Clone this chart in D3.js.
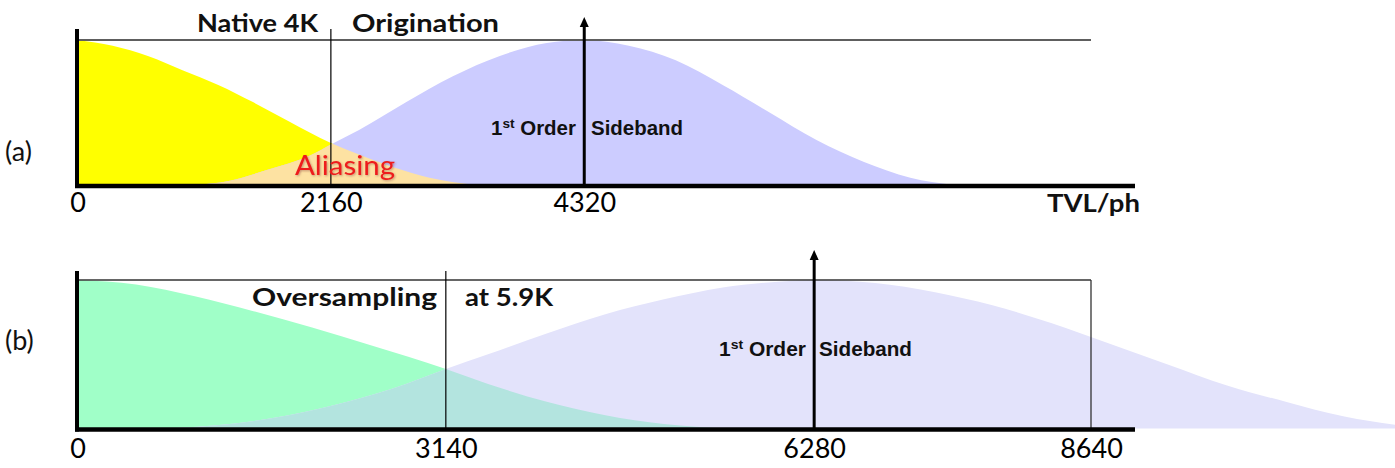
<!DOCTYPE html>
<html>
<head>
<meta charset="utf-8">
<script src="https://cdn.jsdelivr.net/npm/d3@7"></script>
<style>
  body { margin: 0; background: #fff; }
  svg { display: block; }
</style>
</head>
<body>
<svg id="chart" width="1395" height="468"></svg>
<script>
// Baseband response and first-order sideband, native 4K vs 5.9K oversampling (TVL/ph)
const ticksA = [0, 2160, 4320];
const ticksB = [0, 3140, 6280, 8640];
const nyquistA = 2160, samplingA = 4320;
const nyquistB = 3140, samplingB = 6280, limitB = 8640;

// relative response as [TVL/ph, level]
const basebandA = [[0,1],[300,0.96],[600,0.89],[900,0.79],[1200,0.69],[1500,0.57],[1800,0.44],[2160,0.29],[2400,0.21],[2700,0.12],[3000,0.05],[3390,0]];
const sidebandA = [[982,0],[1300,0.03],[1600,0.10],[2000,0.21],[2160,0.28],[2400,0.38],[2800,0.57],[3200,0.75],[3600,0.89],[4000,0.98],[4320,1],[4700,0.96],[5100,0.86],[5500,0.69],[5900,0.50],[6300,0.31],[6700,0.16],[7100,0.05],[7470,0]];
const basebandB = [[0,1],[500,0.97],[1000,0.89],[1500,0.79],[2000,0.68],[2500,0.56],[3140,0.40],[3500,0.30],[4000,0.18],[4500,0.09],[5000,0.03],[5542,0]];
const sidebandB = [[738,0],[1300,0.03],[1800,0.09],[2300,0.18],[2800,0.30],[3140,0.40],[3500,0.50],[4000,0.64],[4500,0.77],[5000,0.87],[5500,0.95],[6000,0.99],[6280,1],[6800,0.98],[7300,0.92],[7800,0.83],[8300,0.71],[8800,0.57],[9300,0.43],[9800,0.29],[10300,0.18],[10800,0.08],[11300,0.02],[11822,0]];

const svg = d3.select("#chart");
const x = d3.scaleLinear().domain([0, 8640]).range([77.5, 1091]);
const yA = d3.scaleLinear().domain([0, 1]).range([185, 40]);
const yB = d3.scaleLinear().domain([0, 1]).range([428.5, 280]);

const areaFor = y => d3.area()
  .x(d => x(d[0]))
  .y0(y(0))
  .y1(d => y(d[1]))
  .curve(d3.curveMonotoneX);

const defs = svg.append("defs");
const shadow = defs.append("filter").attr("id", "soft").attr("x", "-10%").attr("y", "-20%").attr("width", "120%").attr("height", "140%");
shadow.append("feDropShadow").attr("dx", 1).attr("dy", 1).attr("stdDeviation", 1)
  .attr("flood-color", "#803030").attr("flood-opacity", 0.45);

// fit a text element to a given width
function fit(sel, w) {
  sel.attr("textLength", w).attr("lengthAdjust", "spacingAndGlyphs");
  return sel;
}

function panel(cfg) {
  const g = svg.append("g");
  const area = areaFor(cfg.y);
  const clipId = "clip-" + cfg.key;
  defs.append("clipPath").attr("id", clipId)
    .append("path").attr("d", area(cfg.baseband));

  g.append("path").attr("d", area(cfg.baseband)).attr("fill", cfg.baseColor);
  g.append("path").attr("d", area(cfg.sideband)).attr("fill", cfg.sideColor);
  // overlap of baseband and sideband
  g.append("path").attr("d", area(cfg.sideband)).attr("fill", cfg.overlapColor)
    .attr("clip-path", `url(#${clipId})`);

  const y0 = cfg.y(0) + 1;
  const yTop = cfg.y(1);

  // frame top line
  g.append("line")
    .attr("x1", x(0)).attr("x2", x(limitB))
    .attr("y1", yTop).attr("y2", yTop)
    .attr("stroke", cfg.topColor).attr("stroke-width", cfg.topWidth);
  if (cfg.box) {
    g.append("line")
      .attr("x1", x(limitB)).attr("x2", x(limitB))
      .attr("y1", yTop).attr("y2", y0)
      .attr("stroke", cfg.topColor).attr("stroke-width", cfg.topWidth);
  }

  // Nyquist divider
  g.append("line")
    .attr("x1", x(cfg.nyquist)).attr("x2", x(cfg.nyquist))
    .attr("y1", cfg.dividerTop).attr("y2", y0)
    .attr("stroke", "#000").attr("stroke-width", 1.2);

  // sampling frequency arrow
  const xs = x(cfg.sampling);
  g.append("line")
    .attr("x1", xs).attr("x2", xs)
    .attr("y1", y0).attr("y2", cfg.arrowTip + 8)
    .attr("stroke", "#000").attr("stroke-width", 3);
  g.append("path")
    .attr("d", `M${xs - 4.5},${cfg.arrowTip + 10} L${xs},${cfg.arrowTip} L${xs + 4.5},${cfg.arrowTip + 10} Z`)
    .attr("fill", "#000");

  // axes
  g.append("line")
    .attr("x1", 75).attr("x2", 1135)
    .attr("y1", y0).attr("y2", y0)
    .attr("stroke", "#000").attr("stroke-width", 4.5);
  g.append("line")
    .attr("x1", 77).attr("x2", 77)
    .attr("y1", cfg.axisTop).attr("y2", y0 + 2)
    .attr("stroke", "#000").attr("stroke-width", 4);

  const axis = d3.axisBottom(x).tickValues(cfg.ticks).tickSize(0).tickPadding(cfg.tickPad)
    .tickFormat(d3.format("d"));
  const ax = g.append("g").attr("transform", `translate(0,${y0})`).call(axis);
  ax.select(".domain").remove();
  ax.selectAll("text")
    .attr("font-family", "Lato, 'Open Sans', sans-serif")
    .attr("font-size", 27).attr("fill", "#000");

  // panel tag
  g.append("text").attr("x", 5).attr("y", cfg.tagY)
    .attr("font-family", "Lato, sans-serif").attr("font-size", 27).attr("fill", "#111")
    .text(cfg.tag);

  // first-order sideband label
  const lab = g.append("text")
    .attr("x", cfg.sbX[0]).attr("y", cfg.sbY)
    .attr("font-family", "'Liberation Sans', Arial, sans-serif")
    .attr("font-weight", "bold").attr("font-size", 19.5).attr("fill", "#111");
  lab.append("tspan").text("1");
  lab.append("tspan").attr("font-size", 13).attr("dy", -7).text("st");
  lab.append("tspan").attr("dy", 7).text(" Order");
  fit(lab, cfg.sbX[1] - cfg.sbX[0]);
  fit(g.append("text")
    .attr("x", cfg.sbX[2]).attr("y", cfg.sbY)
    .attr("font-family", "'Liberation Sans', Arial, sans-serif")
    .attr("font-weight", "bold").attr("font-size", 19.5).attr("fill", "#111")
    .text("Sideband"), cfg.sbX[3] - cfg.sbX[2]);

  return g;
}

const gA = panel({
  key: "a", y: yA, baseband: basebandA, sideband: sidebandA,
  baseColor: "#ffff00", sideColor: "#ccccff", overlapColor: "#fde2a2",
  topColor: "#5e5e5e", topWidth: 2, box: false,
  nyquist: nyquistA, sampling: samplingA, dividerTop: 29, arrowTip: 17, axisTop: 29,
  ticks: ticksA, tickPad: 7, tag: "(a)", tagY: 161,
  sbX: [491, 576, 591, 683], sbY: 135
});

const gB = panel({
  key: "b", y: yB, baseband: basebandB, sideband: sidebandB,
  baseColor: "#a0ffc8", sideColor: "#e3e3fb", overlapColor: "#b3e4df",
  topColor: "#333", topWidth: 1.3, box: true,
  nyquist: nyquistB, sampling: samplingB, dividerTop: 271, arrowTip: 250, axisTop: 271,
  ticks: ticksB, tickPad: 9, tag: "(b)", tagY: 350,
  sbX: [719, 806, 819, 912], sbY: 356
});

const calibriLike = "Lato, 'Open Sans', sans-serif";
function title(g, str, x0, x1, y, size, weight, color) {
  return fit(g.append("text").attr("x", x0).attr("y", y)
    .attr("font-family", calibriLike).attr("font-size", size)
    .attr("font-weight", weight).attr("fill", color).text(str), x1 - x0);
}

title(gA, "Native 4K", 197, 318, 32, 25, "bold", "#111");
title(gA, "Origination", 352, 499, 32, 25, "bold", "#111");
title(gA, "Aliasing", 295, 395, 175, 27, "normal", "#ee1c1c").attr("filter", "url(#soft)");
title(gA, "TVL/ph", 1047, 1140, 212, 25, "bold", "#111");
title(gB, "Oversampling", 252, 437, 306, 25, "bold", "#111");
title(gB, "at 5.9K", 465, 553, 306, 25, "bold", "#111");
</script>
</body>
</html>
